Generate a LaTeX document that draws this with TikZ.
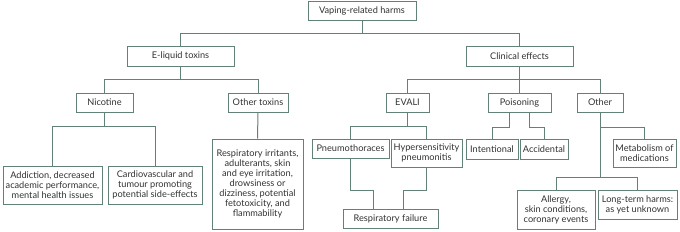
\documentclass[tikz,border=0pt]{standalone}
\usepackage{fontspec}
\setmainfont{Lato}
\usepackage{tikz}
\usetikzlibrary{calc}
\definecolor{lineG}{RGB}{98,130,120}
\definecolor{textD}{RGB}{50,50,50}

\begin{document}
\begin{tikzpicture}[
  x=1pt, y=-1pt,
  harm/.style={rectangle, draw=lineG, line width=1pt, inner sep=0pt, align=center,
    text=textD, font=\fontsize{9.2}{10}\selectfont},
  link/.style={draw=lineG, line width=1pt}]

  \useasboundingbox (0,0) rectangle (680,231);

  % top level
  \node[harm, minimum width=108, minimum height=19] (root) at (362,10.5) {Vaping-related harms};
  \node[harm, minimum width=107, minimum height=20] (eliq) at (180.5,56) {E-liquid toxins};
  \node[harm, minimum width=107, minimum height=20] (clin) at (519.5,56) {Clinical effects};
  \draw[link] (root.south) -- ++(0,13) -| (eliq.north);
  \draw[link] (root.south) -- ++(0,13) -| (clin.north);

  % e-liquid branch
  \node[harm, minimum width=57, minimum height=19] (nic) at (104.5,102.5) {Nicotine};
  \node[harm, minimum width=60, minimum height=19] (oth) at (258,102.5) {Other toxins};
  \draw[link] (eliq.south) -- ++(0,13) -| (nic.north);
  \draw[link] (eliq.south) -- ++(0,13) -| (oth.north);

  \node[harm, minimum width=99, minimum height=38] (addict) at (52.5,185)
    {Addiction, decreased\\academic performance,\\mental health issues};
  \node[harm, minimum width=94, minimum height=38] (cardio) at (155,185)
    {Cardiovascular and\\tumour promoting\\potential side-effects};
  \draw[link] (nic.south) -- ++(0,14) -| (addict.north);
  \draw[link] (nic.south) -- ++(0,14) -| (cardio.north);

  \node[harm, minimum width=91, minimum height=90] (irrit) at (257.5,184)
    {Respiratory irritants,\\adulterants, skin\\and eye irritation,\\drowsiness or\\dizziness, potential\\fetotoxicity, and\\flammability};
  \draw[link] (oth.south) -- (irrit.north);

  % clinical branch
  \node[harm, minimum width=43, minimum height=19] (evali) at (407.5,102.5) {EVALI};
  \node[harm, minimum width=63, minimum height=19] (pois) at (519.5,102.5) {Poisoning};
  \node[harm, minimum width=46, minimum height=19] (other) at (600,102.5) {Other};
  \draw[link] (clin.south) -- ++(0,13) -| (evali.north);
  \draw[link] (clin.south) -- (pois.north);
  \draw[link] (clin.south) -- ++(0,13) -| (other.north);

  % EVALI
  \node[harm, minimum width=77, minimum height=19] (pneumo) at (350.5,148.5) {Pneumothoraces};
  \node[harm, minimum width=71, minimum height=28] (hyper) at (426.5,153) {Hypersensitivity\\pneumonitis};
  \node[harm, minimum width=95, minimum height=19] (respfail) at (390.5,218.5) {Respiratory failure};
  \draw[link] (evali.south) -- ++(0,14) -| (pneumo.north);
  \draw[link] (evali.south) -- ++(0,14) -| (hyper.north);
  \draw[link] (pneumo.south) -- ++(0,32) -| ([xshift=-17]respfail.north);
  \draw[link] (hyper.south) -- ++(0,23) -| ([xshift=13]respfail.north);

  % poisoning
  \node[harm, minimum width=52, minimum height=20] (intent) at (492,149) {Intentional};
  \node[harm, minimum width=48, minimum height=20] (accid) at (544,149) {Accidental};
  \draw[link] ([xshift=-10]pois.south) -- ++(0,15) -| (intent.north);
  \draw[link] ([xshift=10]pois.south) -- ++(0,15) -| (accid.north);

  % other
  \node[harm, minimum width=63, minimum height=28] (metab) at (644.5,153) {Metabolism of\\medications};
  \node[harm, minimum width=78, minimum height=39] (allergy) at (556,209.5)
    {Allergy,\\skin conditions,\\coronary events};
  \node[harm, minimum width=79, minimum height=29] (longterm) at (637.5,204.5)
    {Long-term harms:\\as yet unknown};
  \draw[link] (other.south) -- ++(0,15) -| (metab.north);
  \draw[link] (other.south) -- ++(0,65) -| (allergy.north);
  \draw[link] (other.south) -- ++(0,65) -| (longterm.north);
\end{tikzpicture}
\end{document}
